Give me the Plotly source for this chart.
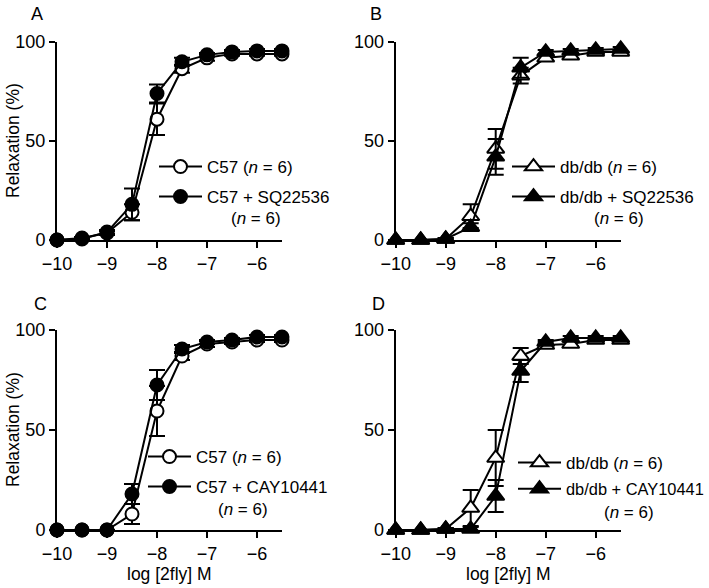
import plotly.graph_objects as go

# ---------------- data ----------------
log_conc = [-10, -9.5, -9, -8.5, -8, -7.5, -7, -6.5, -6, -5.5]

a_c57 = [0, 1, 3.5, 14, 61, 86.5, 92, 94, 94, 94]
a_c57_err = [0, 0.5, 1, 4, 8, 2, 1.5, 1, 1, 1]
a_sq = [0, 0.5, 4, 18, 74, 90, 93.5, 95, 95.5, 95.5]
a_sq_err = [0, 0.5, 1, 8, 4.5, 2, 1, 1, 1, 1]

b_db = [0, 0, 0.5, 12, 46, 83, 92, 93, 95, 95]
b_db_err = [0, 0, 0.5, 6, 10, 4, 1.5, 1, 1, 1]
b_sq = [0, 0, 0.5, 6.5, 42, 87, 95, 95.5, 96, 96.5]
b_sq_err = [0, 0, 0.5, 2, 9, 5, 1, 1, 1, 1]

c_c57 = [0, 0, 0, 8, 59.5, 87, 93, 94, 95, 95]
c_c57_err = [0, 0, 0, 5, 12.5, 2, 1.5, 1, 1, 1]
c_cay = [0, 0, 0, 18, 72.5, 90.5, 94, 95, 96.5, 96.5]
c_cay_err = [0, 0, 0, 5, 7.5, 2, 1, 1, 1, 1]

d_db = [0, 0, 0.5, 11, 36, 87, 92.5, 93, 95, 95]
d_db_err = [0, 0, 0.5, 9, 14, 4, 1.5, 1, 1, 1]
d_cay = [0, 0, 0.5, 0.5, 17, 79.5, 94, 96, 96, 96]
d_cay_err = [0, 0, 0.5, 1, 8, 5.5, 1, 1, 1, 1]

x_ticks = [-10, -9, -8, -7, -6]
x_ticktext = ["\u221210", "\u22129", "\u22128", "\u22127", "\u22126"]
y_ticks = [0, 50, 100]
panel_letters = ["A", "B", "C", "D"]
legend_names = [
    ("C57 (<i>n</i> = 6)", "C57 + SQ22536"),
    ("db/db (<i>n</i> = 6)", "db/db + SQ22536"),
    ("C57 (<i>n</i> = 6)", "C57 + CAY10441"),
    ("db/db (<i>n</i> = 6)", "db/db + CAY10441"),
]
n_note = "(<i>n</i> = 6)"
x_title = "log [2fly] M"
y_title = "Relaxation (%)"

# ---------------- layout geometry (pixels) ----------------
W, H = 709, 588
FONT = "Liberation Sans, Arial, Helvetica, sans-serif"
LEG_FS = 17
ITEM_W = 43
px_x = [(57, 282), (395.7, 620.7), (57, 282), (395.7, 620.7)]
px_y = [(42, 240), (42, 240), (330, 530), (330, 530)]

def fx(p):
    return p / W

def fy(p):
    return 1 - p / H

panels = [
    (a_c57, a_c57_err, a_sq, a_sq_err, "circle"),
    (b_db, b_db_err, b_sq, b_sq_err, "triangle-up"),
    (c_c57, c_c57_err, c_cay, c_cay_err, "circle"),
    (d_db, d_db_err, d_cay, d_cay_err, "triangle-up"),
]

# legend rows: (marker x, row1 y, row2 y, note center x, note y, row2 font)
leg_pos = [
    (174, 167, 197, 256, 218, LEG_FS),
    (527, 167, 197, 619, 218, LEG_FS),
    (163, 457, 487, 243, 509, LEG_FS),
    (533, 463, 489, 629, 512, 16.4),
]

fig = go.Figure()
layout = dict(
    width=W, height=H,
    margin=dict(l=0, r=0, t=0, b=0, pad=0, autoexpand=False),
    paper_bgcolor="white", plot_bgcolor="white",
    font=dict(family=FONT, size=LEG_FS, color="black"),
    showlegend=True,
)
annotations = []

for i, (s1, e1, s2, e2, sym) in enumerate(panels):
    k = "" if i == 0 else str(i + 1)
    xa, ya = "x" + k, "y" + k
    size = 13 if sym == "circle" else 15
    names = legend_names[i]
    leg1 = "legend" + ("" if i == 0 else str(2 * i + 1))
    leg2 = "legend" + str(2 * i + 2)
    for j, (vals, errs, fill) in enumerate([(s1, e1, "white"), (s2, e2, "black")]):
        fig.add_trace(go.Scatter(
            x=log_conc, y=vals, xaxis=xa, yaxis=ya,
            mode="lines+markers", name=names[j],
            legend=leg1 if j == 0 else leg2,
            line=dict(color="black", width=2),
            marker=dict(symbol=sym, size=size, color=fill,
                        line=dict(color="black", width=2)),
            error_y=dict(type="data", array=errs, visible=True,
                         color="black", thickness=2, width=8),
            cliponaxis=False,
        ))
    mx, r1, r2, nx, ny, fs2 = leg_pos[i]
    for leg, ry, fs in [(leg1, r1, LEG_FS), (leg2, r2, fs2)]:
        layout[leg] = dict(
            x=fx(mx - 20), y=fy(ry), xanchor="left", yanchor="middle",
            bgcolor="rgba(0,0,0,0)", borderwidth=0, itemwidth=ITEM_W,
            font=dict(family=FONT, size=fs, color="black"),
            itemclick=False, itemdoubleclick=False,
        )
    annotations.append(dict(
        text=n_note, x=fx(nx), y=fy(ny), xref="paper", yref="paper",
        xanchor="center", yanchor="middle", showarrow=False,
        font=dict(family=FONT, size=LEG_FS, color="black"),
    ))
    x0, x1 = px_x[i]
    y0, y1 = px_y[i]
    layout["xaxis" + k] = dict(
        domain=[fx(x0), fx(x1)], range=[-10, -5.5], anchor=ya,
        showgrid=False, zeroline=False, showline=True, linecolor="black",
        linewidth=2, ticks="outside", ticklen=6, tickwidth=2, tickcolor="black",
        tickvals=x_ticks, ticktext=x_ticktext, automargin=False,
        tickfont=dict(family=FONT, size=18, color="black"),
    )
    layout["yaxis" + k] = dict(
        domain=[fy(y1), fy(y0)], range=[0, 100], anchor=xa,
        showgrid=False, zeroline=False, showline=True, linecolor="black",
        linewidth=2, ticks="outside", ticklen=6, tickwidth=2, tickcolor="black",
        tickvals=y_ticks, automargin=False,
        tickfont=dict(family=FONT, size=18, color="black"),
    )
    lx = [37, 376, 40, 379][i]
    ly = [14, 14, 304, 304][i]
    annotations.append(dict(
        text=panel_letters[i], x=fx(lx), y=fy(ly), xref="paper", yref="paper",
        xanchor="center", yanchor="middle", showarrow=False,
        font=dict(family=FONT, size=18, color="black"),
    ))

for cy in [141, 430]:
    annotations.append(dict(
        text=y_title, x=fx(13), y=fy(cy), xref="paper", yref="paper",
        xanchor="center", yanchor="middle", textangle=-90, showarrow=False,
        font=dict(family=FONT, size=17.5, color="black"),
    ))
for cx in [169.5, 508]:
    annotations.append(dict(
        text=x_title, x=fx(cx), y=fy(574), xref="paper", yref="paper",
        xanchor="center", yanchor="middle", showarrow=False,
        font=dict(family=FONT, size=17.5, color="black"),
    ))

layout["annotations"] = annotations
fig.update_layout(**layout)
fig.write_html(
    "out.html",
    config={"displayModeBar": False, "staticPlot": True},
    post_script="document.body.style.margin='0';document.body.style.overflow='hidden';",
)
